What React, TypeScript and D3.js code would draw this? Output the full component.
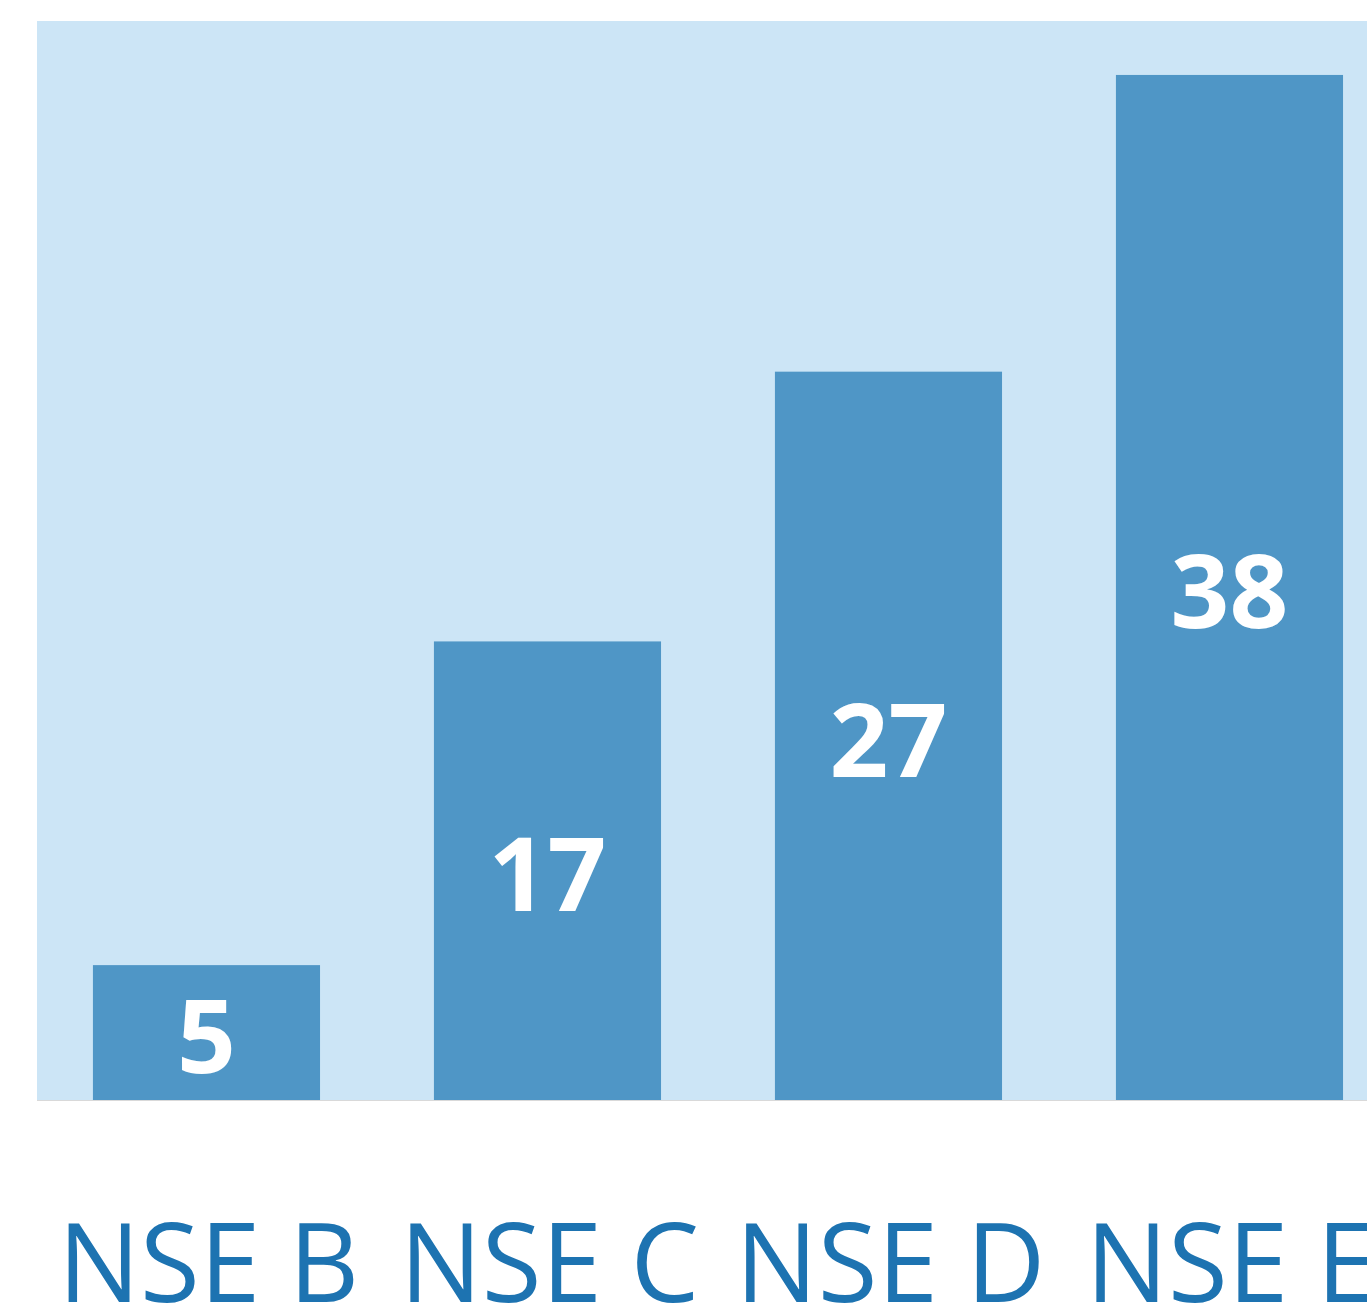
import * as d3 from 'd3'

const categories = ['NSE B', 'NSE C', 'NSE D', 'NSE E']
const values = [5, 17, 27, 38]
const yMax = 40

export default function App() {
  const width = 1367
  const height = 1305
  const plot = { left: 37, top: 21, bottom: 1100 }
  const step = 341
  const padIn = 0.334
  const padOut = 0.164

  const x = d3.scaleBand<string>()
    .domain(categories)
    .range([plot.left, plot.left + step * (categories.length - padIn + 2 * padOut)])
    .paddingInner(padIn)
    .paddingOuter(padOut)

  const y = d3.scaleLinear()
    .domain([0, yMax])
    .range([plot.bottom, plot.top])

  const valueSize = 103
  const labelSize = 109

  return (
    <svg width={width} height={height}
      style={{ position: 'absolute', left: 0, top: 0, display: 'block' }}>
      <rect x={0} y={0} width={width} height={height} fill="#ffffff" />
      {/* plot background */}
      <rect x={plot.left} y={y(yMax)} width={x.range()[1] - plot.left}
        height={y(0) - y(yMax)} fill="#CCE5F6" />
      <line x1={plot.left} x2={width} y1={y(0) + 0.5} y2={y(0) + 0.5}
        stroke="#d9d9d9" strokeWidth={1} />

      {categories.map((c, i) => {
        const v = values[i]
        const x0 = x(c) as number
        const mid = (y(v) + y(0)) / 2
        return (
          <g key={c}>
            <rect x={x0} y={y(v)} width={x.bandwidth()} height={y(0) - y(v)} fill="#4F96C6" />
            <text x={x0 + x.bandwidth() / 2} y={mid + valueSize * 0.357 + 4}
              textAnchor="middle" fill="#ffffff" fontWeight="bold"
              fontFamily="'Open Sans', sans-serif" fontSize={valueSize}>
              {v}
            </text>
            <text x={x0 + x.bandwidth() / 2 + 2} y={1302}
              textAnchor="middle" fill="#1D73B1"
              fontFamily="'Open Sans', sans-serif" fontSize={labelSize}>
              {c}
            </text>
          </g>
        )
      })}
    </svg>
  )
}
